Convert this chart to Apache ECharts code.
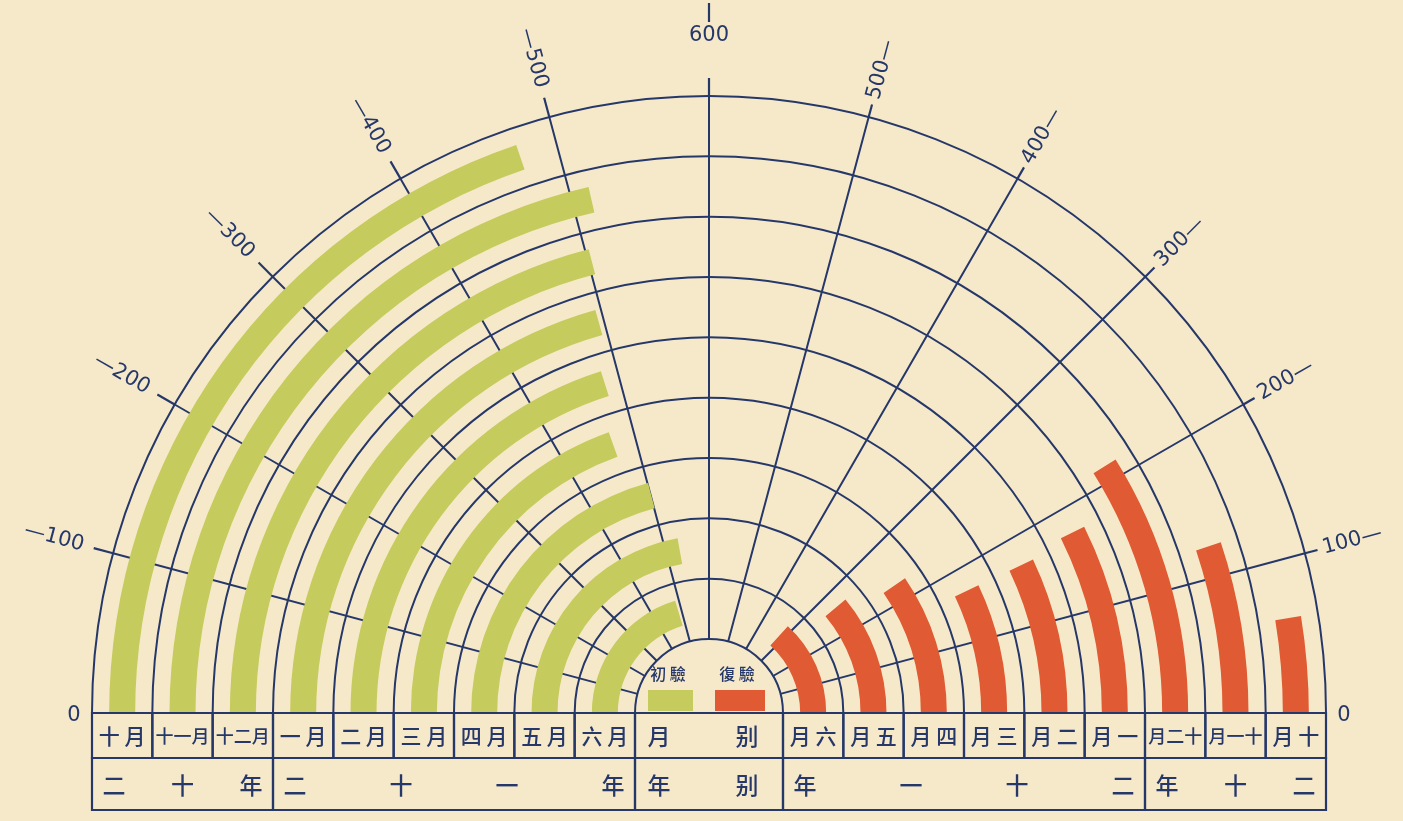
<!DOCTYPE html>
<html>
<head>
<meta charset="utf-8">
<title>初驗・復驗 月別</title>
<script src="https://cdn.jsdelivr.net/npm/echarts@6.0.0/dist/echarts.min.js"></script>
<style>
html,body{margin:0;padding:0;background:#f6e9c9;}
#chart{width:1403px;height:821px;}
</style>
</head>
<body>
<div id="chart"></div>
<script>
// ---------------- data ----------------
const months = ['十月','十一月','十二月','一月','二月','三月','四月','五月','六月'];
const firstInspection = [475, 514, 503, 495, 483, 469, 501, 532, 488]; // 初驗 (left half, green)
const reInspection    = [62, 123, 213, 176, 169, 169, 230, 265, 318];  // 復驗 (right half, red)
const angleTicks = [0, 100, 200, 300, 400, 500, 600];
const yearGroups = ['二十年', '二十一年'];
const yearGroupSpans = [[0, 2], [3, 8]];
const monthHeader = ['月', '别'];
const yearHeader = ['年', '别'];
const legendNames = ['初驗', '復驗'];

// ---------------- style ----------------
const INK = '#26386a';
const GREEN = '#c5cb5c';
const RED = '#e05a33';
const BG = '#f6e9c9';
const CX = 709, CY = 713, R0 = 74, R = 617;
const ROW1 = 45, ROW2 = 52;
const NUM_FONT = '21px "DejaVu Sans"';
const CJK = '"Noto Sans CJK TC"';
const LW = 2;

function rev(s) { return s.split('').reverse().join(''); }

function axisLabelSeries(polarIndex, side) {
  const topVal = angleTicks[angleTicks.length - 1];
  const vals = side === 'left' ? angleTicks : angleTicks.filter(v => v !== topVal);
  return {
    type: 'custom', coordinateSystem: 'polar', polarIndex: polarIndex, silent: true, z: 4,
    data: vals.map(v => [0, v]),
    renderItem: function (params, api) {
      const cs = params.coordSys;
      const v = api.value(1);
      const p = api.coord([0, v]);
      let dx = p[0] - cs.cx, dy = p[1] - cs.cy;
      const len = Math.sqrt(dx * dx + dy * dy); dx /= len; dy /= len;
      const at = r => [cs.cx + dx * r, cs.cy + dy * r];
      const line = (r1, r2) => {
        const a = at(r1), b = at(r2);
        return { type: 'line', shape: { x1: a[0], y1: a[1], x2: b[0], y2: b[1] }, style: { stroke: INK, lineWidth: 2.2 } };
      };
      const children = [];
      if (v === 0) {
        const q = at(cs.r + 18);
        children.push({ type: 'text', style: { text: String(v), x: q[0], y: q[1] + 3, align: 'center', verticalAlign: 'middle', font: NUM_FONT, fill: INK } });
      } else if (v === topVal) {
        children.push(line(cs.r, cs.r + 18));
        children.push(line(cs.r + 74, cs.r + 93));
        const t = at(cs.r + 60);
        children.push({ type: 'text', style: { text: String(v), x: t[0], y: t[1], align: 'center', verticalAlign: 'middle', font: NUM_FONT, fill: INK } });
      } else {
        const tickLen = side === 'left' ? 20 : 13;
        const labelR = side === 'left' ? cs.r + 61 : cs.r + 49;
        children.push(line(cs.r, cs.r + tickLen));
        const t = at(labelR);
        let rot, txt;
        if (side === 'left') { rot = Math.atan2(dy, -dx); txt = '—' + v; }
        else { rot = Math.atan2(-dy, dx); txt = v + '—'; }
        children.push({ type: 'text', x: t[0], y: t[1], rotation: rot,
          style: { text: txt, x: 0, y: 0, align: 'center', verticalAlign: 'middle', font: NUM_FONT, fill: INK } });
      }
      return { type: 'group', children: children };
    }
  };
}

function monthCellSeries(polarIndex, reversed) {
  return {
    type: 'custom', coordinateSystem: 'polar', polarIndex: polarIndex, silent: true, z: 6,
    data: months.map((m, i) => [i, 0]),
    renderItem: function (params, api) {
      const cs = params.coordSys;
      const i = api.value(0);
      const p = api.coord([i, 0]);
      const bw = api.size([1, 0])[0];
      let label = reversed ? rev(months[i]) : months[i];
      const size = label.length > 2 ? 18 : 21;
      if (label.length === 2) label = label.split('').join(' ');
      return { type: 'group', children: [
        { type: 'rect', shape: { x: p[0] - bw / 2, y: cs.cy, width: bw, height: ROW1 }, style: { fill: 'none', stroke: INK, lineWidth: 2.2 } },
        { type: 'text', style: { text: label, x: p[0], y: cs.cy + ROW1 / 2 + 1, align: 'center', verticalAlign: 'middle', font: '500 ' + size + 'px ' + CJK, fill: INK } }
      ] };
    }
  };
}

function yearCellSeries(polarIndex, reversed) {
  return {
    type: 'custom', coordinateSystem: 'polar', polarIndex: polarIndex, silent: true, z: 6,
    data: yearGroupSpans.map(s => [s[0], s[1]]),
    renderItem: function (params, api) {
      const cs = params.coordSys;
      const a = api.coord([api.value(0), 0]);
      const b = api.coord([api.value(1), 0]);
      const bw = api.size([1, 0])[0];
      const x1 = Math.min(a[0], b[0]) - bw / 2, x2 = Math.max(a[0], b[0]) + bw / 2;
      const label = reversed ? rev(yearGroups[params.dataIndex]) : yearGroups[params.dataIndex];
      const chars = label.split('');
      const pad = 22;
      const children = [{ type: 'rect', shape: { x: x1, y: cs.cy + ROW1, width: x2 - x1, height: ROW2 }, style: { fill: 'none', stroke: INK, lineWidth: 2.2 } }];
      chars.forEach((c, k) => {
        const x = x1 + pad + k * (x2 - x1 - 2 * pad) / (chars.length - 1);
        children.push({ type: 'text', style: { text: c, x: x, y: cs.cy + ROW1 + ROW2 / 2 + 1, align: 'center', verticalAlign: 'middle', font: '500 23px ' + CJK, fill: INK } });
      });
      return { type: 'group', children: children };
    }
  };
}

function centerCellSeries() {
  return {
    type: 'custom', coordinateSystem: 'polar', polarIndex: 0, silent: true, z: 6,
    data: [[0, 0]],
    renderItem: function (params, api) {
      const cs = params.coordSys;
      const x1 = cs.cx - cs.r0, x2 = cs.cx + cs.r0;
      const rows = [[monthHeader, cs.cy, ROW1], [yearHeader, cs.cy + ROW1, ROW2]];
      const children = [];
      rows.forEach(r => {
        children.push({ type: 'rect', shape: { x: x1, y: r[1], width: x2 - x1, height: r[2] }, style: { fill: 'none', stroke: INK, lineWidth: 2.2 } });
        children.push({ type: 'text', style: { text: r[0][0], x: x1 + 24, y: r[1] + r[2] / 2 + 1, align: 'center', verticalAlign: 'middle', font: '500 23px ' + CJK, fill: INK } });
        children.push({ type: 'text', style: { text: r[0][1], x: x2 - 36, y: r[1] + r[2] / 2 + 1, align: 'center', verticalAlign: 'middle', font: '500 23px ' + CJK, fill: INK } });
      });
      return { type: 'group', children: children };
    }
  };
}

const angleAxisBase = {
  type: 'value', min: 0, max: 600, interval: 100,
  axisLine: { show: false }, axisTick: { show: false }, axisLabel: { show: false },
  splitLine: { show: true, lineStyle: { color: INK, width: LW } }
};
const radiusAxisBase = {
  type: 'category', data: months, inverse: true,
  axisLine: { show: false }, axisTick: { show: false }, axisLabel: { show: false },
  splitLine: { show: true, lineStyle: { color: INK, width: LW } }
};

const option = {
  backgroundColor: BG,
  animation: false,
  polar: [
    { center: [CX, CY], radius: [R0, R] },
    { center: [CX, CY], radius: [R0, R] }
  ],
  angleAxis: [
    Object.assign({ polarIndex: 0, startAngle: 180, endAngle: 90, clockwise: true }, angleAxisBase),
    Object.assign({ polarIndex: 1, startAngle: 0, endAngle: 90, clockwise: false }, angleAxisBase)
  ],
  radiusAxis: [
    Object.assign({ polarIndex: 0 }, radiusAxisBase),
    Object.assign({ polarIndex: 1 }, radiusAxisBase)
  ],
  series: [
    { type: 'bar', name: legendNames[0], coordinateSystem: 'polar', polarIndex: 0, data: firstInspection, barWidth: 26, itemStyle: { color: GREEN }, z: 3 },
    { type: 'bar', name: legendNames[1], coordinateSystem: 'polar', polarIndex: 1, data: reInspection, barWidth: 26, itemStyle: { color: RED }, z: 3 },
    axisLabelSeries(0, 'left'),
    axisLabelSeries(1, 'right'),
    monthCellSeries(0, false),
    monthCellSeries(1, true),
    yearCellSeries(0, false),
    yearCellSeries(1, true),
    centerCellSeries()
  ],
  graphic: [
    { type: 'text', x: 668, y: 674, style: { text: legendNames[0].split('').join(' '), align: 'center', verticalAlign: 'middle', font: '500 16px ' + CJK, fill: INK } },
    { type: 'rect', shape: { x: 648, y: 690, width: 45, height: 21 }, style: { fill: GREEN } },
    { type: 'text', x: 737, y: 674, style: { text: legendNames[1].split('').join(' '), align: 'center', verticalAlign: 'middle', font: '500 16px ' + CJK, fill: INK } },
    { type: 'rect', shape: { x: 715, y: 690, width: 50, height: 21 }, style: { fill: RED } }
  ]
};

const chart = echarts.init(document.getElementById('chart'), null, { renderer: 'canvas' });
chart.setOption(option);
</script>
</body>
</html>
